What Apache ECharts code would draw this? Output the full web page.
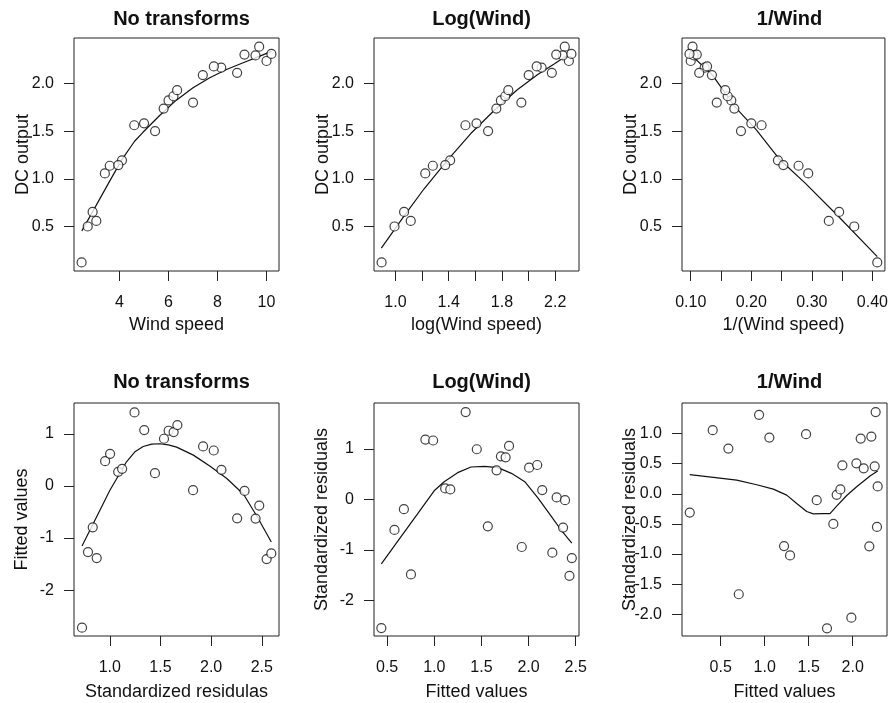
<!DOCTYPE html>
<html>
<head>
<meta charset="utf-8">
<script src="https://cdn.jsdelivr.net/npm/echarts@6/dist/echarts.min.js"></script>
<style>
  html, body { margin: 0; padding: 0; background: #fff; }
  #chart { width: 891px; height: 703px; }
</style>
</head>
<body>
<div id="chart"></div>
<script>
// windmill data: wind speed vs DC output
const windSpeed = [5.00, 6.00, 3.40, 2.70, 10.00, 9.70, 9.55, 3.05, 8.15, 6.20, 2.90, 6.35, 4.60,
  5.80, 7.40, 3.60, 7.85, 8.80, 7.00, 5.45, 9.10, 10.20, 4.10, 3.95, 2.45];
const logWind = [1.609, 1.792, 1.224, 0.993, 2.303, 2.272, 2.257, 1.115, 2.098, 1.825, 1.065, 1.848, 1.526,
  1.758, 2.001, 1.281, 2.061, 2.175, 1.946, 1.696, 2.208, 2.322, 1.411, 1.374, 0.896];
const invWind = [0.200, 0.167, 0.294, 0.370, 0.100, 0.103, 0.105, 0.328, 0.123, 0.161, 0.345, 0.157, 0.217,
  0.172, 0.135, 0.278, 0.127, 0.114, 0.143, 0.183, 0.110, 0.098, 0.244, 0.253, 0.408];
const dcOutput = [1.582, 1.822, 1.057, 0.500, 2.236, 2.386, 2.294, 0.558, 2.166, 1.866, 0.653, 1.930, 1.562,
  1.737, 2.088, 1.137, 2.179, 2.112, 1.800, 1.501, 2.303, 2.310, 1.194, 1.144, 0.123];

// smoother curves
const smoothWindX = [2.459, 2.909, 3.591, 4.095, 4.614, 4.955, 5.636, 6.318, 7.0, 7.682, 8.364, 9.046, 9.727, 10.205];
const smoothWindY = [0.454, 0.658, 0.973, 1.201, 1.394, 1.488, 1.664, 1.825, 1.955, 2.060, 2.147, 2.217, 2.287, 2.337];
const smoothLogX = [0.894, 1.063, 1.214, 1.390, 1.566, 1.757, 1.918, 2.069, 2.195, 2.283];
const smoothLogY = [0.272, 0.605, 0.893, 1.194, 1.475, 1.737, 1.937, 2.095, 2.207, 2.288];
const smoothInvX = [0.098, 0.136, 0.173, 0.208, 0.246, 0.289, 0.344, 0.408];
const smoothInvY = [2.315, 2.088, 1.755, 1.516, 1.208, 0.955, 0.605, 0.184];

// residual plots (fitted value, standardized residual)
const fitNone = [0.726, 0.785, 0.832, 0.871, 0.954, 1.003, 1.083, 1.122, 1.244, 1.340, 1.446, 1.535, 1.581,
  1.630, 1.667, 1.822, 1.921, 2.026, 2.102, 2.257, 2.330, 2.439, 2.475, 2.548, 2.594];
const resNone = [-2.72, -1.27, -0.795, -1.385, 0.474, 0.615, 0.269, 0.327, 1.41, 1.07, 0.244, 0.904, 1.058,
  1.032, 1.167, -0.083, 0.756, 0.679, 0.308, -0.622, -0.096, -0.628, -0.378, -1.404, -1.295];
const fitLog = [0.439, 0.578, 0.678, 0.753, 0.906, 0.988, 1.116, 1.170, 1.333, 1.451, 1.568, 1.661, 1.707,
  1.757, 1.793, 1.928, 2.006, 2.092, 2.145, 2.252, 2.298, 2.387, 2.366, 2.434, 2.459];
const resLog = [-2.543, -0.603, -0.192, -1.483, 1.185, 1.166, 0.219, 0.199, 1.728, 0.993, -0.53, 0.576, 0.854,
  0.834, 1.06, -0.94, 0.629, 0.682, 0.185, -1.053, 0.04, -0.013, -0.556, -1.51, -1.159];
const fitInv = [0.148, 0.409, 0.587, 0.705, 0.936, 1.053, 1.220, 1.288, 1.470, 1.591, 1.708, 1.780, 1.818,
  1.860, 1.883, 1.985, 2.042, 2.091, 2.125, 2.189, 2.212, 2.250, 2.261, 2.284, 2.276];
const resInv = [-0.311, 1.056, 0.75, -1.667, 1.311, 0.933, -0.867, -1.022, 0.989, -0.106, -2.233, -0.5, -0.017,
  0.072, 0.472, -2.056, 0.506, 0.917, 0.422, -0.872, 0.95, 0.456, 1.356, 0.122, -0.55];

const smoothNoneX = [0.726, 0.835, 1.0, 1.165, 1.248, 1.330, 1.413, 1.495, 1.578, 1.660, 1.825, 1.990, 2.155, 2.320, 2.452, 2.594];
const smoothNoneY = [-1.154, -0.731, -0.090, 0.462, 0.654, 0.756, 0.801, 0.808, 0.788, 0.744, 0.590, 0.378, 0.141, -0.160, -0.583, -1.077];
const smoothResLogX = [0.439, 0.642, 0.821, 0.999, 1.105, 1.248, 1.390, 1.533, 1.675, 1.818, 1.960, 2.103, 2.245, 2.352, 2.459];
const smoothResLogY = [-1.272, -0.748, -0.291, 0.172, 0.351, 0.530, 0.642, 0.656, 0.629, 0.517, 0.351, 0.020, -0.344, -0.623, -0.861];
const smoothResInvX = [0.148, 0.417, 0.682, 0.909, 1.098, 1.250, 1.364, 1.477, 1.553, 1.648, 1.742, 1.818, 1.932, 2.045, 2.197, 2.284];
const smoothResInvY = [0.317, 0.272, 0.228, 0.150, 0.078, -0.022, -0.161, -0.294, -0.333, -0.328, -0.328, -0.206, -0.028, 0.117, 0.294, 0.380];

// titles and axis names
const titles = ['No transforms', 'Log(Wind)', '1/Wind', 'No transforms', 'Log(Wind)', '1/Wind'];
const xNames = ['Wind speed', 'log(Wind speed)', '1/(Wind speed)', 'Standardized residulas', 'Fitted values', 'Fitted values'];
const yNames = ['DC output', 'DC output', 'DC output', 'Fitted values', 'Standardized residuals', 'Standardized residuals'];

// tick positions and labelled ticks
const xTicks = [
  [4, 6, 8, 10],
  [1.0, 1.2, 1.4, 1.6, 1.8, 2.0, 2.2],
  [0.10, 0.15, 0.20, 0.25, 0.30, 0.35, 0.40],
  [1.0, 1.5, 2.0, 2.5],
  [0.5, 1.0, 1.5, 2.0, 2.5],
  [0.5, 1.0, 1.5, 2.0]
];
const xLabels = [
  [4, 6, 8, 10],
  [1.0, 1.4, 1.8, 2.2],
  [0.10, 0.20, 0.30, 0.40],
  [1.0, 1.5, 2.0, 2.5],
  [0.5, 1.0, 1.5, 2.0, 2.5],
  [0.5, 1.0, 1.5, 2.0]
];
const yTicks = [
  [0.5, 1.0, 1.5, 2.0],
  [0.5, 1.0, 1.5, 2.0],
  [0.5, 1.0, 1.5, 2.0],
  [-2, -1, 0, 1],
  [-2, -1, 0, 1],
  [-2.0, -1.5, -1.0, -0.5, 0.0, 0.5, 1.0]
];
const xDigits = [0, 1, 2, 1, 1, 1];
const yDigits = [1, 1, 1, 0, 0, 1];

// padded data ranges (R style, 4%)
const xRange = [[2.14, 10.51], [0.839, 2.379], [0.0856, 0.4206], [0.647, 2.67], [0.361, 2.535], [0.06, 2.39]];
const yRange = [[0.033, 2.477], [0.033, 2.477], [0.033, 2.477], [-2.88, 1.59], [-2.70, 1.908], [-2.36, 1.507]];

const points = [
  [windSpeed, dcOutput], [logWind, dcOutput], [invWind, dcOutput],
  [fitNone, resNone], [fitLog, resLog], [fitInv, resInv]
];
const curves = [
  [smoothWindX, smoothWindY], [smoothLogX, smoothLogY], [smoothInvX, smoothInvY],
  [smoothNoneX, smoothNoneY], [smoothResLogX, smoothResLogY], [smoothResInvX, smoothResInvY]
];

const ink = '#111';
const font = 'Liberation Sans, Arial, Helvetica, sans-serif';
const lefts = [74, 374, 682];
const tops = [38, 403];
const boxW = 205, boxH = 233;

const zip = (a, b) => a.map((v, i) => [v, b[i]]);

const grid = [], xAxis = [], yAxis = [], series = [], title = [];
for (let i = 0; i < 6; i++) {
  const row = Math.floor(i / 3);
  const left = lefts[i % 3], top = tops[row];
  grid.push({ left, top, width: boxW, height: boxH, show: true, borderColor: '#222', borderWidth: 1, backgroundColor: 'transparent' });
  title.push({
    text: titles[i], left: left + boxW / 2, top: top - (row ? 36 : 34), textAlign: 'center',
    textStyle: { fontSize: 20, fontWeight: 'bold', color: ink, fontFamily: font }
  });
  xAxis.push({
    gridIndex: i, type: 'value', min: xRange[i][0], max: xRange[i][1],
    axisLine: { show: false, onZero: false }, splitLine: { show: false },
    axisTick: { show: true, length: 10, customValues: xTicks[i], lineStyle: { color: '#222' } },
    axisLabel: { customValues: xLabels[i], margin: 24, fontSize: 16, color: ink, fontFamily: font,
      formatter: v => v.toFixed(xDigits[i]) },
    name: xNames[i], nameLocation: 'middle', nameGap: row ? 47 : 45, nameMoveOverlap: false,
    nameTextStyle: { fontSize: 18, color: ink, fontFamily: font }
  });
  yAxis.push({
    gridIndex: i, type: 'value', min: yRange[i][0], max: yRange[i][1],
    axisLine: { show: false, onZero: false }, splitLine: { show: false },
    axisTick: { show: true, length: 10, customValues: yTicks[i], lineStyle: { color: '#222' } },
    axisLabel: { customValues: yTicks[i], margin: 20, fontSize: 16, color: ink, fontFamily: font,
      formatter: v => v.toFixed(yDigits[i]) },
    name: yNames[i], nameLocation: 'middle', nameGap: row ? 43 : 42, nameMoveOverlap: false,
    nameTextStyle: { fontSize: 18, color: ink, fontFamily: font }
  });
  series.push({
    type: 'scatter', xAxisIndex: i, yAxisIndex: i, data: zip(points[i][0], points[i][1]),
    symbol: 'circle', symbolSize: 9,
    itemStyle: { color: '#fff', borderColor: '#111', borderWidth: 1.2 }
  });
  series.push({
    type: 'line', xAxisIndex: i, yAxisIndex: i, data: zip(curves[i][0], curves[i][1]),
    showSymbol: false, lineStyle: { color: '#111', width: 1.2 }, z: 1
  });
}

const chart = echarts.init(document.getElementById('chart'), null, { renderer: 'canvas' });
chart.setOption({ animation: false, textStyle: { fontFamily: font }, title, grid, xAxis, yAxis, series });
window.addEventListener('resize', () => chart.resize());
</script>
</body>
</html>
